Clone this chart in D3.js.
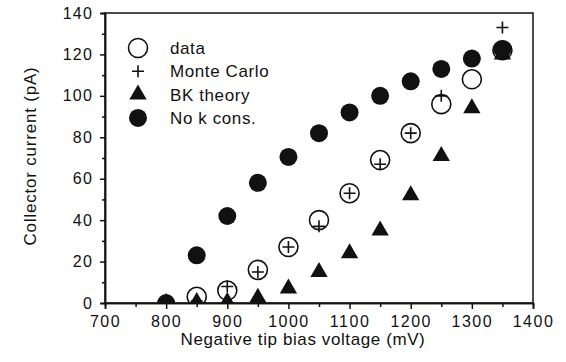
<!DOCTYPE html>
<html>
<head>
<meta charset="utf-8">
<script src="https://cdn.jsdelivr.net/npm/d3@7.9.0/dist/d3.min.js"></script>
<style>
  body { margin: 0; background: #fff; }
  text { font-family: "Liberation Sans", Arial, sans-serif; fill: #111; }
</style>
</head>
<body>
<svg id="chart" width="566" height="362"></svg>
<script>
// values (voltage in mV, current in pA)
const voltages = [800, 850, 900, 950, 1000, 1050, 1100, 1150, 1200, 1250, 1300, 1350];
const dataSeries = [null, 3, 6, 16, 27, 40, 53, 69, 82, 96, 108, 122];
const monteCarlo = [null, 1, 8, 15, 27, 37, 53, 67, 82, 100, 119, 133];
const bkTheory = [0, 0.5, 0.5, 2.5, 7, 15, 24, 35, 52, 71, 94, 120];
const noKCons = [0, 23, 42, 58, 70.5, 82, 92, 100, 107, 113, 118, 122.5];
const xTicks = [700, 800, 900, 1000, 1100, 1200, 1300, 1400];
const yTicks = [0, 20, 40, 60, 80, 100, 120, 140];
const legendLabels = ["data", "Monte Carlo", "BK theory", "No k cons."];

const svg = d3.select("#chart");
const x = d3.scaleLinear().domain([700, 1400]).range([105, 533]);
const y = d3.scaleLinear().domain([0, 140]).range([303, 13]);

// frame
svg.append("rect")
  .attr("x", x(700)).attr("y", y(140))
  .attr("width", x(1400) - x(700)).attr("height", y(0) - y(140))
  .attr("fill", "none").attr("stroke", "#111").attr("stroke-width", 1.5);

// minor ticks
const xAxisMinor = d3.axisBottom(x).tickValues(d3.range(750, 1400, 100)).tickSize(4).tickFormat("");
const yAxisMinor = d3.axisLeft(y).tickValues(d3.range(10, 140, 20)).tickSize(3).tickFormat("");
svg.append("g").attr("transform", `translate(0,${y(0)})`).call(xAxisMinor);
svg.append("g").attr("transform", `translate(${x(700)},0)`).call(yAxisMinor);

const xAxis = d3.axisBottom(x).tickValues(xTicks).tickSize(6).tickPadding(7).tickFormat(d3.format("d"));
const yAxis = d3.axisLeft(y).tickValues(yTicks).tickSize(5).tickPadding(7).tickFormat(d3.format("d"));
const gx = svg.append("g").attr("transform", `translate(0,${y(0)})`).call(xAxis);
const gy = svg.append("g").attr("transform", `translate(${x(700)},0)`).call(yAxis);

svg.selectAll(".domain").attr("stroke", "#111").attr("stroke-width", 1.5);
svg.selectAll(".tick line").attr("stroke", "#111").attr("stroke-width", 1.5);
gx.selectAll("text").attr("font-size", 16).attr("letter-spacing", 1.5).attr("fill", "#111")
  .attr("font-family", "Liberation Sans, Arial, sans-serif");
gy.selectAll("text").attr("font-size", 16).attr("letter-spacing", 1.2).attr("fill", "#111")
  .attr("font-family", "Liberation Sans, Arial, sans-serif");

// axis titles
svg.append("text")
  .attr("x", (x(700) + x(1400)) / 2 - 16).attr("y", 345)
  .attr("text-anchor", "middle").attr("font-size", 17).attr("letter-spacing", 0.6)
  .text("Negative tip bias voltage (mV)");
svg.append("text")
  .attr("transform", "translate(36,156) rotate(-90)")
  .attr("text-anchor", "middle").attr("font-size", 17).attr("letter-spacing", 0.8)
  .text("Collector current (pA)");

// markers
svg.append("clipPath").attr("id", "plotclip")
  .append("rect").attr("x", x(700)).attr("y", y(140))
  .attr("width", x(1400) - x(700)).attr("height", y(0) - y(140));
const plot = svg.append("g").attr("clip-path", "url(#plotclip)");

const triangle = d3.symbol().type(d3.symbolTriangle).size(130);
const pts = arr => voltages.map((v, i) => ({ v, c: arr[i] })).filter(d => d.c !== null);

function drawTriangle(g, cx, cy) {
  g.append("path").attr("d", triangle()).attr("transform", `translate(${cx},${cy})`).attr("fill", "#111");
}
function drawOpen(g, cx, cy) {
  g.append("circle").attr("cx", cx).attr("cy", cy).attr("r", 9.5)
    .attr("fill", "none").attr("stroke", "#111").attr("stroke-width", 1.6);
}
function drawPlus(g, cx, cy) {
  g.append("path").attr("d", `M${cx - 6},${cy}H${cx + 6}M${cx},${cy - 6}V${cy + 6}`)
    .attr("stroke", "#111").attr("stroke-width", 1.6).attr("fill", "none");
}
function drawFilled(g, cx, cy) {
  g.append("circle").attr("cx", cx).attr("cy", cy).attr("r", 9).attr("fill", "#111");
}

pts(bkTheory).forEach(d => drawTriangle(plot, x(d.v), y(d.c)));
pts(dataSeries).forEach(d => drawOpen(plot, x(d.v), y(d.c)));
pts(monteCarlo).forEach(d => drawPlus(plot, x(d.v), y(d.c)));
pts(noKCons).forEach(d => drawFilled(plot, x(d.v), y(d.c)));

// legend
const legend = svg.append("g");
const drawers = [drawOpen, drawPlus, drawTriangle, drawFilled];
legendLabels.forEach((label, i) => {
  const ly = 48 + i * 23.3;
  drawers[i](legend, 138, ly);
  legend.append("text").attr("x", 170).attr("y", ly + 6)
    .attr("font-size", 17).attr("letter-spacing", 0.6).text(label);
});
</script>
</body>
</html>
